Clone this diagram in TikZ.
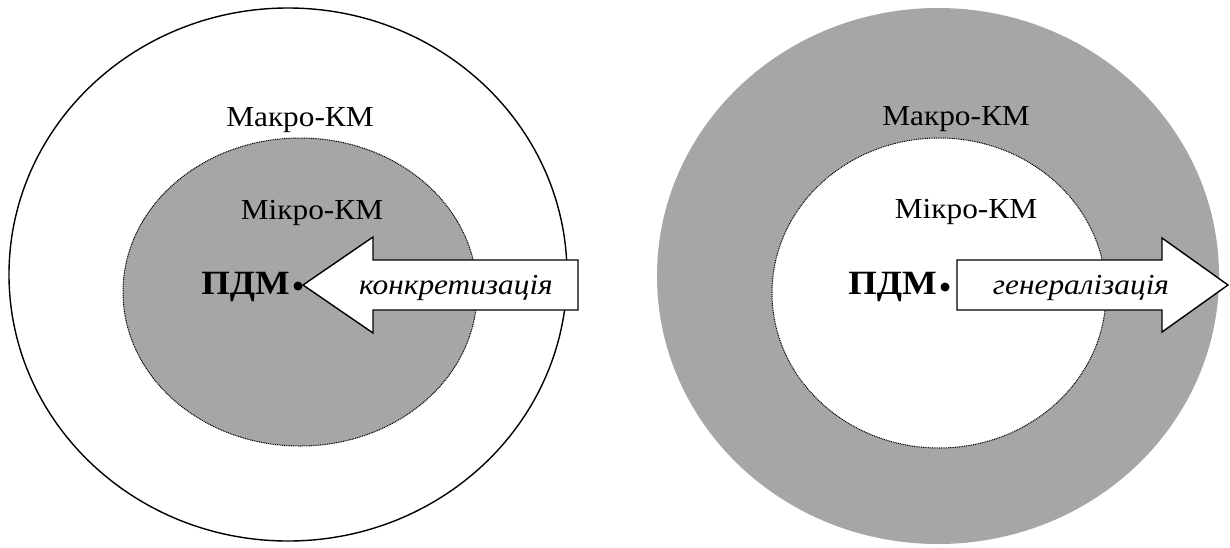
\documentclass[tikz,border=0pt]{standalone}
\usepackage{fontspec}
\setmainfont{Liberation Serif}[FakeStretch=1.08]
\begin{document}
\begin{tikzpicture}[x=1pt,y=-1pt,
  lbl/.style={font=\fontsize{29}{32}\selectfont, inner sep=0pt, anchor=base},
  pdm/.style={font=\fontsize{34}{36}\selectfont\bfseries, inner sep=0pt, anchor=base east},
  act/.style={font=\fontsize{29}{32}\selectfont\itshape, inner sep=0pt, anchor=base},
  pt/.style={circle, fill=black, inner sep=0pt, minimum size=9pt},
  shellline/.style={draw=black, line width=1.4pt},
  coreline/.style={draw=black, line width=1pt, dash pattern=on 1pt off 0.8pt},
  blockarrow/.style={draw=black, fill=white, line width=1.4pt, line join=miter}
]
\definecolor{greyfill}{RGB}{166,166,166}
\useasboundingbox (0,0) rectangle (1230,547);

% ---- left: concretization ----
\draw[shellline, fill=white] (288,274.5) ellipse [x radius=279, y radius=266.5];
\draw[coreline, fill=greyfill] (300,292) ellipse [x radius=177, y radius=154];
\node[lbl] (macroL) at (300,126) {Макро-КМ};
\node[lbl] (microL) at (312,219) {Мікро-КМ};
\node[pdm] (pdmL) at (290,294) {ПДМ};
\node[pt] (dotL) at (298,286) {};
\coordinate (tipL) at (303,285);
\draw[blockarrow] (tipL) -- ++(70,-48) -- ++(0,23) -- ++(205,0) -- ++(0,50)
  -- ++(-205,0) -- ++(0,23) -- cycle;
\node[act] (conc) at (456,294) {конкретизація};

% ---- right: generalization ----
\fill[greyfill] (938,276) ellipse [x radius=281, y radius=268];
\draw[coreline, fill=white] (939,293) ellipse [x radius=167, y radius=155];
\node[lbl] (macroR) at (956,125) {Макро-КМ};
\node[lbl] (microR) at (966,218) {Мікро-КМ};
\node[pdm] (pdmR) at (937,294) {ПДМ};
\node[pt] (dotR) at (945,287) {};
\coordinate (tipR) at (1228,285);
\draw[blockarrow] (tipR) -- ++(-66,-47) -- ++(0,22) -- ++(-205,0) -- ++(0,50)
  -- ++(205,0) -- ++(0,22) -- cycle;
\node[act] (gen) at (1081,294) {генералізація};
\end{tikzpicture}
\end{document}
